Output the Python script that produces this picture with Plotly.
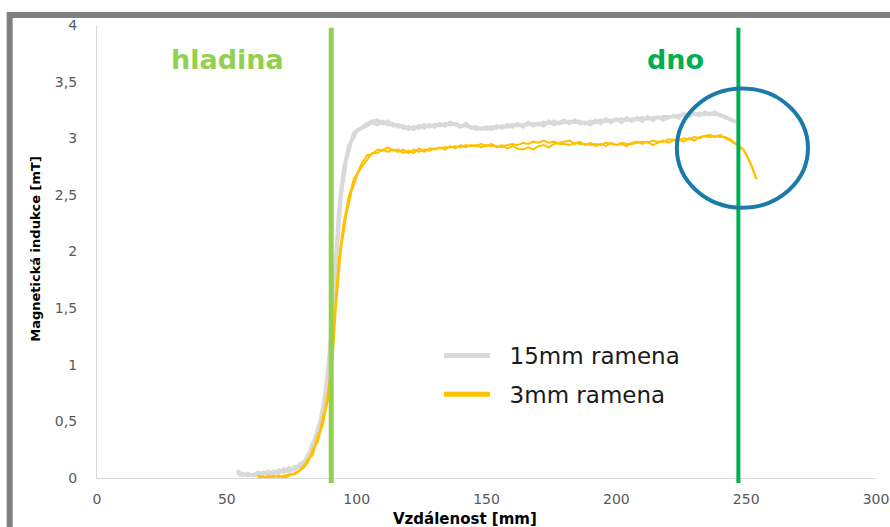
import plotly.graph_objects as go

# --- measured profiles: distance [mm] vs magnetic induction [mT] ---
# sampling grid: coarse at the start, 1 mm through the rise, 2 mm on the plateau
x_15mm = [54, 55, 56] + list(range(58, 81, 2)) + list(range(81, 101)) + list(range(102, 247, 2))
b_15mm_a = ([0.07, 0.05, 0.02, 0.04, 0.02, 0.05, 0.03, 0.06, 0.04, 0.07, 0.05, 0.09, 0.07, 0.12, 0.15]
            + [0.20, 0.23, 0.31, 0.35, 0.44, 0.51, 0.63, 0.77, 0.99, 1.24,
               1.59, 1.97, 2.33, 2.55, 2.73, 2.83, 2.94, 2.98, 3.05, 3.06]
            + [3.10, 3.13, 3.15, 3.16, 3.13, 3.15, 3.11, 3.12, 3.09, 3.10,
               3.08, 3.11, 3.09, 3.12, 3.10, 3.13, 3.11, 3.14, 3.12, 3.10,
               3.13, 3.09, 3.10, 3.08, 3.10, 3.08, 3.11, 3.09, 3.12, 3.10,
               3.13, 3.10, 3.14, 3.11, 3.13, 3.11, 3.15, 3.12, 3.14, 3.16,
               3.13, 3.16, 3.13, 3.14, 3.12, 3.16, 3.13, 3.17, 3.14, 3.17,
               3.14, 3.18, 3.15, 3.18, 3.15, 3.19, 3.16, 3.19, 3.16, 3.18,
               3.20, 3.18, 3.22, 3.19, 3.22, 3.20, 3.23, 3.21, 3.23, 3.20,
               3.19, 3.16, 3.15])
b_15mm_b = ([0.05, 0.03, 0.04, 0.02, 0.03, 0.02, 0.05, 0.03, 0.06, 0.04, 0.08, 0.05, 0.10, 0.09, 0.14]
            + [0.16, 0.22, 0.25, 0.33, 0.38, 0.48, 0.55, 0.71, 0.87, 1.13,
               1.44, 1.86, 2.19, 2.49, 2.65, 2.81, 2.89, 2.98, 3.01, 3.07]
            + [3.09, 3.11, 3.14, 3.12, 3.15, 3.12, 3.13, 3.10, 3.11, 3.08,
               3.10, 3.09, 3.12, 3.10, 3.12, 3.11, 3.13, 3.12, 3.13, 3.11,
               3.11, 3.10, 3.08, 3.09, 3.08, 3.10, 3.09, 3.11, 3.10, 3.12,
               3.11, 3.12, 3.12, 3.13, 3.12, 3.14, 3.13, 3.15, 3.13, 3.14,
               3.15, 3.14, 3.15, 3.13, 3.15, 3.14, 3.16, 3.15, 3.16, 3.16,
               3.17, 3.16, 3.17, 3.17, 3.18, 3.17, 3.18, 3.18, 3.19, 3.19,
               3.19, 3.20, 3.20, 3.21, 3.21, 3.22, 3.21, 3.22, 3.21, 3.21,
               3.18, 3.17, 3.14])

x_3mm = list(range(62, 81, 2)) + list(range(81, 101)) + list(range(102, 245, 2)) + list(range(245, 255))
b_3mm_a = ([0.01, 0.00, 0.02, 0.01, 0.02, 0.00, 0.02, 0.04, 0.07, 0.12]
           + [0.16, 0.18, 0.25, 0.29, 0.38, 0.43, 0.54, 0.62, 0.77, 0.94,
              1.26, 1.61, 1.91, 2.09, 2.26, 2.37, 2.49, 2.56, 2.65, 2.68]
           + [2.78, 2.85, 2.86, 2.90, 2.89, 2.92, 2.89, 2.90, 2.87, 2.89,
              2.87, 2.91, 2.88, 2.91, 2.90, 2.92, 2.90, 2.93, 2.91, 2.94,
              2.92, 2.94, 2.93, 2.95, 2.93, 2.95, 2.92, 2.94, 2.91, 2.93,
              2.91, 2.90, 2.92, 2.90, 2.93, 2.94, 2.92, 2.95, 2.96, 2.97,
              2.98, 2.95, 2.97, 2.94, 2.96, 2.93, 2.95, 2.93, 2.96, 2.94,
              2.95, 2.93, 2.96, 2.97, 2.95, 2.97, 2.94, 2.96, 2.98, 2.96,
              2.98, 2.99, 2.97, 3.00, 2.98, 3.01, 3.02, 3.03, 3.01, 3.03,
              3.00, 2.98]
           + [2.96, 2.95, 2.93, 2.92, 2.90, 2.86, 2.81, 2.76, 2.70, 2.64])
b_3mm_b = ([0.02, 0.01, 0.00, 0.02, 0.01, 0.02, 0.03, 0.03, 0.06, 0.10]
           + [0.13, 0.18, 0.20, 0.28, 0.32, 0.41, 0.47, 0.59, 0.69, 0.89,
              1.14, 1.51, 1.79, 2.03, 2.17, 2.33, 2.42, 2.53, 2.59, 2.67]
           + [2.75, 2.81, 2.87, 2.87, 2.90, 2.88, 2.90, 2.88, 2.90, 2.87,
              2.90, 2.88, 2.90, 2.89, 2.91, 2.91, 2.92, 2.92, 2.93, 2.92,
              2.94, 2.93, 2.94, 2.92, 2.94, 2.93, 2.93, 2.92, 2.94, 2.95,
              2.94, 2.96, 2.95, 2.97, 2.96, 2.98, 2.96, 2.97, 2.95, 2.95,
              2.94, 2.96, 2.95, 2.95, 2.94, 2.95, 2.94, 2.96, 2.95, 2.94,
              2.96, 2.95, 2.95, 2.96, 2.97, 2.96, 2.98, 2.97, 2.97, 2.99,
              2.99, 2.98, 3.00, 2.99, 3.01, 3.00, 3.02, 3.01, 3.02, 3.01,
              3.01, 2.99]
           + [2.97, 2.95, 2.93, 2.91, 2.90, 2.86, 2.81, 2.76, 2.70, 2.64])

assert len(x_15mm) == len(b_15mm_a) == len(b_15mm_b)
assert len(x_3mm) == len(b_3mm_a) == len(b_3mm_b)

series_names = ["15mm ramena", "3mm ramena"]
x_ticks = [0, 50, 100, 150, 200, 250, 300]
y_ticks = [0, 0.5, 1, 1.5, 2, 2.5, 3, 3.5, 4]
y_tick_text = ["0", "0,5", "1", "1,5", "2", "2,5", "3", "3,5", "4"]

x_surface = 90.2   # hladina
x_bottom = 247.0   # dno

GRAY = "#D9D9D9"
YELLOW = "#FFC000"
LIGHT_GREEN = "#92D050"
GREEN = "#00B050"
BLUE = "#1A7BAB"
FONT = "DejaVu Sans"

fig = go.Figure()

# each probe was measured twice; both runs are drawn, legend shows one entry per probe
runs = [
    (x_15mm, b_15mm_a, GRAY, 3.5, "g15"),
    (x_15mm, b_15mm_b, GRAY, 3.5, "g15"),
    (x_3mm, b_3mm_a, YELLOW, 2.0, "g3"),
    (x_3mm, b_3mm_b, YELLOW, 2.0, "g3"),
]
for xs, ys, col, w, grp in runs:
    fig.add_trace(go.Scatter(x=xs, y=ys, mode="lines", line=dict(color=col, width=w),
                             legendgroup=grp, showlegend=False, hoverinfo="skip"))

# legend entries with thicker sample lines
for name, col, grp in [(series_names[0], GRAY, "g15"), (series_names[1], YELLOW, "g3")]:
    fig.add_trace(go.Scatter(x=[None], y=[None], mode="lines", name="\u00a0\u00a0" + name,
                             line=dict(color=col, width=5), legendgroup=grp))

shapes = [
    # outer frame
    dict(type="rect", xref="paper", yref="paper", x0=-0.1121, x1=1.3, y0=-0.3, y1=1.0223,
         line=dict(color="#808080", width=6), layer="below"),
    # surface and bottom markers
    dict(type="line", xref="x", yref="paper", x0=x_surface, x1=x_surface, y0=-0.011, y1=0.994,
         line=dict(color=LIGHT_GREEN, width=5)),
    dict(type="line", xref="x", yref="paper", x0=x_bottom, x1=x_bottom, y0=-0.011, y1=0.994,
         line=dict(color=GREEN, width=4)),
    # highlighted end region
    dict(type="circle", xref="x", yref="y", x0=223.3, x1=273.8, y0=2.386, y1=3.44,
         line=dict(color=BLUE, width=4)),
]

annotations = [
    dict(text="<b>hladina</b>", x=0.167, y=0.9236, xref="paper", yref="paper",
         xanchor="center", yanchor="middle",
         showarrow=False, font=dict(family=FONT, size=27, color=LIGHT_GREEN)),
    dict(text="<b>dno</b>", x=0.742, y=0.9236, xref="paper", yref="paper",
         xanchor="center", yanchor="middle",
         showarrow=False, font=dict(family=FONT, size=27, color=GREEN)),
    dict(text="<b>Vzdálenost [mm]</b>", x=0.4724, y=-0.0906, xref="paper", yref="paper",
         xanchor="center", yanchor="middle",
         showarrow=False, font=dict(family=FONT, size=15, color="#000000")),
    dict(text="<b>Magnetická indukce [mT]</b>", x=-0.0783, y=0.506, xref="paper", yref="paper",
         xanchor="center", yanchor="middle",
         showarrow=False, textangle=-90, font=dict(family=FONT, size=13, color="#000000")),
]

fig.update_layout(
    width=890, height=527,
    margin=dict(l=97, r=14, t=25, b=49),
    paper_bgcolor="white", plot_bgcolor="white",
    font=dict(family=FONT, color="#595959"),
    shapes=shapes, annotations=annotations,
    showlegend=True,
    legend=dict(x=0.439, y=0.318, xanchor="left", yanchor="top",
                font=dict(family=FONT, size=23, color="#1a1a1a"),
                bgcolor="rgba(0,0,0,0)", tracegroupgap=6, itemwidth=46,
                traceorder="grouped"),
    xaxis=dict(range=[0, 300], tickvals=x_ticks, showgrid=False, zeroline=False,
               showline=True, linecolor="#D9D9D9", linewidth=1.3, ticks="", automargin=False,
               tickfont=dict(family=FONT, size=14, color="#595959"), ticklabelstandoff=8),
    yaxis=dict(range=[0, 4], tickvals=y_ticks, ticktext=y_tick_text, showgrid=False,
               zeroline=False, showline=True, linecolor="#D9D9D9", linewidth=1.3, ticks="",
               automargin=False,
               tickfont=dict(family=FONT, size=14, color="#595959"), ticklabelstandoff=16),
)

fig.write_html("out.html")
